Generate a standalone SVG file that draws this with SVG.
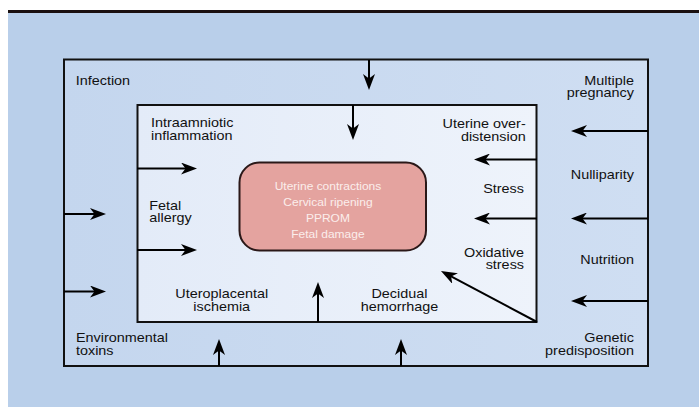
<svg xmlns="http://www.w3.org/2000/svg" width="699" height="407" viewBox="0 0 699 407">
<defs>
<style>
.lbl{font-family:"Liberation Sans",Arial,sans-serif;font-size:12px;fill:#111;}
.ctr{font-family:"Liberation Sans",Arial,sans-serif;font-size:10px;fill:#fbeeec;text-anchor:middle;}
.end{text-anchor:end;}
.mid{text-anchor:middle;}
.box{stroke:#111;stroke-width:2;}
.arr{stroke:#000;stroke-width:2;fill:none;marker-end:url(#ah);}
</style>
<linearGradient id="gOuter" x1="0" y1="0" x2="1" y2="0">
<stop offset="0" stop-color="#c4d6ee"/>
<stop offset="1" stop-color="#cfdef2"/>
</linearGradient>
<linearGradient id="gInner" x1="0" y1="0" x2="1" y2="0">
<stop offset="0" stop-color="#e3ebf8"/>
<stop offset="1" stop-color="#eef3fb"/>
</linearGradient>
<marker id="ah" markerUnits="userSpaceOnUse" viewBox="0 0 16 12" markerWidth="16" markerHeight="12" refX="12" refY="6" orient="auto">
<path d="M0,0 L16,6 L0,12 L4.5,6 Z" fill="#000"/>
</marker>
</defs>
<rect x="8" y="12" width="691" height="395" fill="#b9cfea"/>
<rect x="8" y="10" width="691" height="3" fill="#1a1010"/>
<g id="outer-box"><rect class="box" x="64" y="59.5" width="584" height="306.5" fill="url(#gOuter)"/></g>
<g id="inner-box"><rect class="box" x="137.5" y="105" width="399" height="217" fill="url(#gInner)"/></g>
<g id="outcomes">
<rect x="239.5" y="162.5" width="186.5" height="88" rx="20" ry="20" fill="#e4a39f" stroke="#2a1818" stroke-width="2"/>
<g transform="scale(1.2 1)">
<text class="ctr" x="273.3" y="190.5">Uterine contractions</text>
<text class="ctr" x="273.3" y="206.3">Cervical ripening</text>
<text class="ctr" x="273.3" y="222">PPROM</text>
<text class="ctr" x="273.3" y="237.8">Fetal damage</text>
</g>
</g>
<g id="connectors">
<line class="arr" x1="369" y1="60" x2="369" y2="86"/>
<line class="arr" x1="353" y1="105" x2="353" y2="136"/>
<line class="arr" x1="137" y1="168.5" x2="193" y2="168.5"/>
<line class="arr" x1="137" y1="250" x2="193" y2="250"/>
<line class="arr" x1="64" y1="214" x2="102" y2="214"/>
<line class="arr" x1="64" y1="291.5" x2="102" y2="291.5"/>
<line class="arr" x1="648" y1="131" x2="575" y2="131"/>
<line class="arr" x1="648" y1="218.5" x2="575" y2="218.5"/>
<line class="arr" x1="648" y1="301" x2="575" y2="301"/>
<line class="arr" x1="537" y1="159.5" x2="478" y2="159.5"/>
<line class="arr" x1="537" y1="218.5" x2="478" y2="218.5"/>
<line class="arr" x1="537" y1="322" x2="444.5" y2="272.9"/>
<line class="arr" x1="318" y1="322" x2="318" y2="286"/>
<line class="arr" x1="219" y1="366" x2="219" y2="343"/>
<line class="arr" x1="401" y1="366" x2="401" y2="343"/>
</g>
<g transform="scale(1.2 1)">
<g id="infection"><text class="lbl" x="63.1" y="84.7">Infection</text></g>
<g id="intraamniotic"><text class="lbl" x="125.8" y="127">Intraamniotic</text><text class="lbl" x="125.8" y="140.3">inflammation</text></g>
<g id="fetal-allergy"><text class="lbl" x="124.4" y="210">Fetal</text><text class="lbl" x="124.4" y="222.5">allergy</text></g>
<g id="uteroplacental"><text class="lbl mid" x="184.75" y="297.7">Uteroplacental</text><text class="lbl mid" x="184.75" y="310.7">ischemia</text></g>
<g id="environmental"><text class="lbl" x="63.3" y="342.5">Environmental</text><text class="lbl" x="63.3" y="355.5">toxins</text></g>
<g id="decidual"><text class="lbl mid" x="332.9" y="297.7">Decidual</text><text class="lbl mid" x="332.9" y="310.7">hemorrhage</text></g>
<g id="oxidative"><text class="lbl end" x="436.7" y="256.7">Oxidative</text><text class="lbl end" x="436.7" y="269.3">stress</text></g>
<g id="stress"><text class="lbl end" x="436.7" y="193.3">Stress</text></g>
<g id="overdistension"><text class="lbl end" x="438.1" y="127.7">Uterine over-</text><text class="lbl end" x="438.1" y="141">distension</text></g>
<g id="multiple"><text class="lbl end" x="528.3" y="85">Multiple</text><text class="lbl end" x="528.3" y="97.5">pregnancy</text></g>
<g id="nulliparity"><text class="lbl end" x="528.3" y="179.3">Nulliparity</text></g>
<g id="nutrition"><text class="lbl end" x="528.3" y="264">Nutrition</text></g>
<g id="genetic"><text class="lbl end" x="528.3" y="342.3">Genetic</text><text class="lbl end" x="528.3" y="355">predisposition</text></g>
</g>
</svg>
